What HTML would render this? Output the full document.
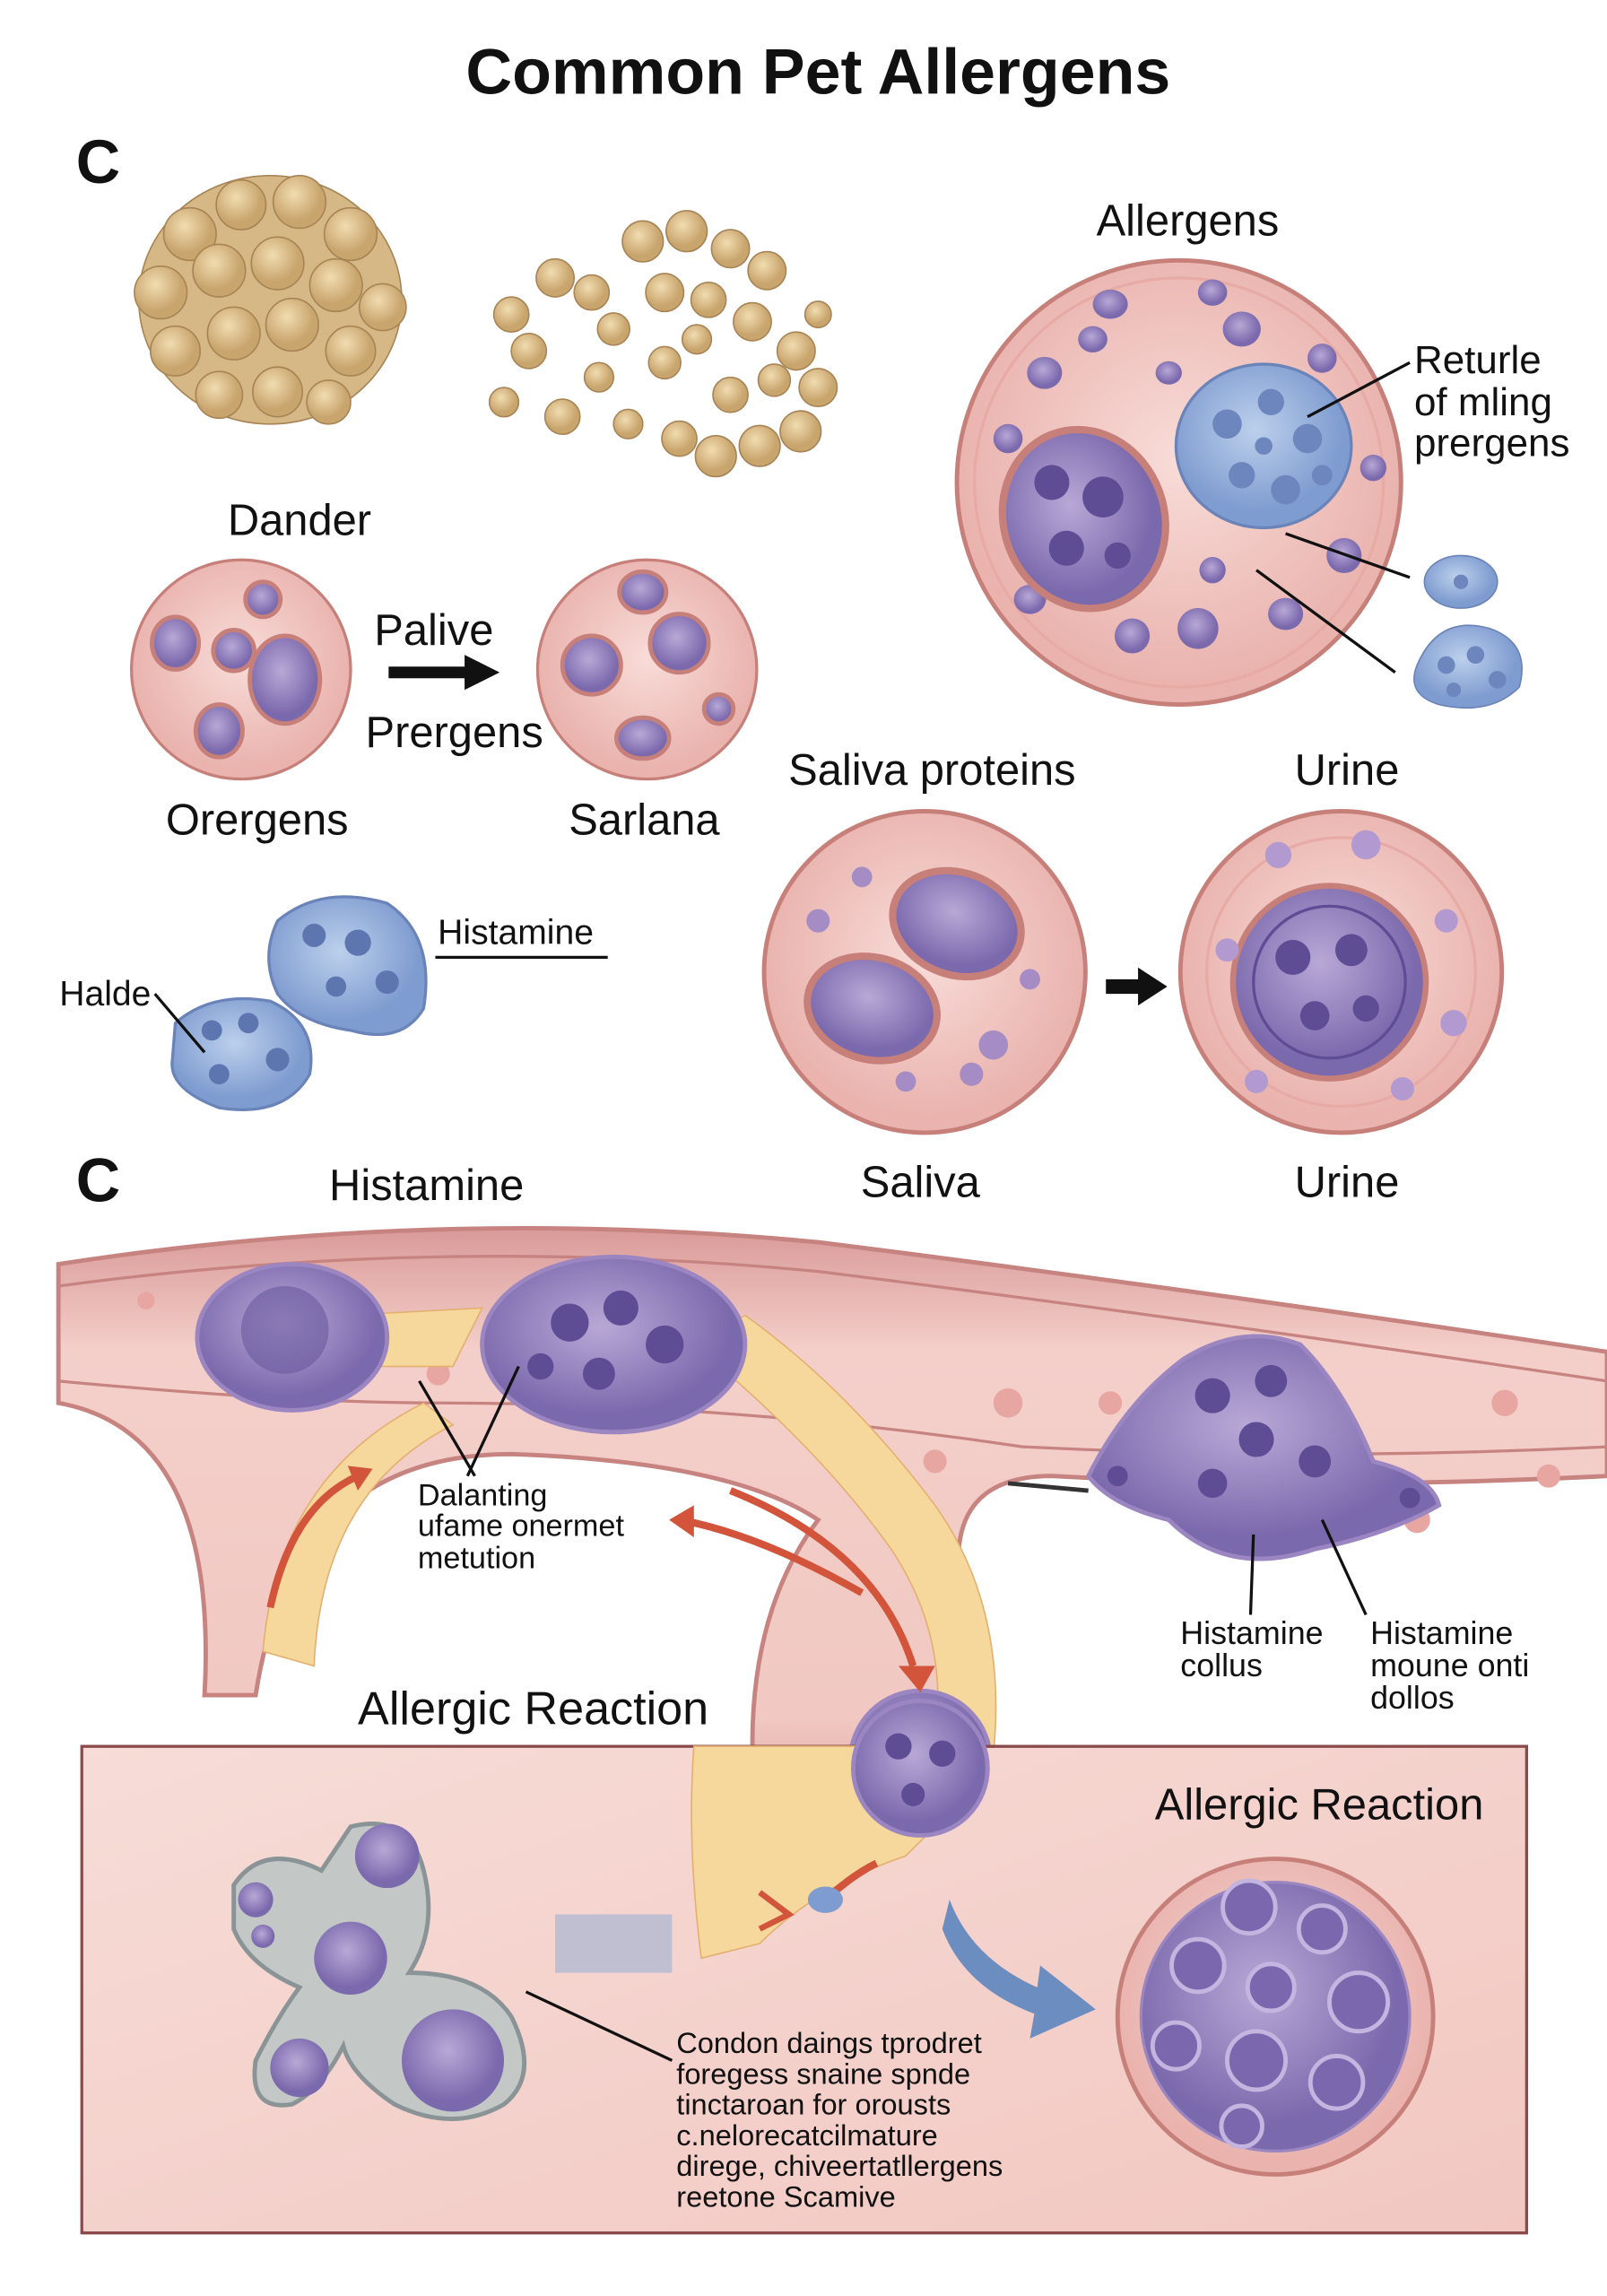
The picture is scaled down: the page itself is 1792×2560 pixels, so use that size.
<!DOCTYPE html>
<html><head><meta charset="utf-8"><style>
html,body{margin:0;padding:0;background:#fff}
svg{display:block}
text{font-family:"Liberation Sans",sans-serif;fill:#111}
</style></head><body>
<svg width="1792" height="2560" viewBox="0 0 1100 1571" xmlns="http://www.w3.org/2000/svg">
<defs>
<radialGradient id="tan" cx="40%" cy="35%"><stop offset="0" stop-color="#f1dcb0"/><stop offset="1" stop-color="#c9a56e"/></radialGradient>
<radialGradient id="pink" cx="50%" cy="45%"><stop offset="0" stop-color="#f8dcd8"/><stop offset="1" stop-color="#eab3ae"/></radialGradient>
<radialGradient id="blue" cx="45%" cy="40%"><stop offset="0" stop-color="#bcd0ec"/><stop offset="1" stop-color="#7f9cd0"/></radialGradient>
<radialGradient id="nuc" cx="45%" cy="40%"><stop offset="0" stop-color="#b8a8d6"/><stop offset="1" stop-color="#7b69ad"/></radialGradient>
<linearGradient id="vessel" x1="0" y1="0" x2="0" y2="1"><stop offset="0" stop-color="#d99a98"/><stop offset="0.2" stop-color="#f4cfca"/><stop offset="0.8" stop-color="#f1c8c2"/><stop offset="1" stop-color="#d99a98"/></linearGradient>
<linearGradient id="boxg" x1="0" y1="0" x2="1" y2="1"><stop offset="0" stop-color="#f7dcd7"/><stop offset="1" stop-color="#f2c7c1"/></linearGradient>
</defs>

<text x="560" y="64" font-size="44" font-weight="bold" text-anchor="middle">Common Pet Allergens</text>
<text x="52" y="125" font-size="42" font-weight="bold">C</text>

<!-- dander clump -->
<g fill="url(#tan)" stroke="#a88455" stroke-width="1">
<ellipse cx="185" cy="205" rx="90" ry="85" fill="#d6b886"/>
<circle cx="130" cy="160" r="18"/><circle cx="165" cy="140" r="17"/><circle cx="205" cy="138" r="18"/><circle cx="240" cy="160" r="18"/>
<circle cx="110" cy="200" r="18"/><circle cx="150" cy="185" r="18"/><circle cx="190" cy="180" r="18"/><circle cx="230" cy="195" r="18"/><circle cx="262" cy="210" r="16"/>
<circle cx="120" cy="240" r="17"/><circle cx="160" cy="228" r="18"/><circle cx="200" cy="222" r="18"/><circle cx="240" cy="240" r="17"/>
<circle cx="150" cy="270" r="16"/><circle cx="190" cy="268" r="17"/><circle cx="225" cy="275" r="15"/>
</g>
<!-- scattered -->
<g fill="url(#tan)" stroke="#a88455" stroke-width="1">
<circle cx="440" cy="165" r="14"/><circle cx="470" cy="158" r="14"/><circle cx="500" cy="170" r="13"/><circle cx="525" cy="185" r="13"/>
<circle cx="380" cy="190" r="13"/><circle cx="405" cy="200" r="12"/><circle cx="350" cy="215" r="12"/><circle cx="362" cy="240" r="12"/>
<circle cx="420" cy="225" r="11"/><circle cx="455" cy="200" r="13"/><circle cx="485" cy="205" r="12"/><circle cx="515" cy="220" r="13"/>
<circle cx="545" cy="240" r="13"/><circle cx="560" cy="265" r="13"/><circle cx="548" cy="295" r="14"/><circle cx="520" cy="305" r="14"/>
<circle cx="490" cy="312" r="14"/><circle cx="465" cy="300" r="12"/><circle cx="500" cy="270" r="12"/><circle cx="455" cy="248" r="11"/>
<circle cx="410" cy="258" r="10"/><circle cx="345" cy="275" r="10"/><circle cx="385" cy="285" r="12"/><circle cx="430" cy="290" r="10"/>
<circle cx="560" cy="215" r="9"/><circle cx="530" cy="260" r="11"/><circle cx="477" cy="232" r="10"/>
</g>

<text x="205" y="366" font-size="30" text-anchor="middle">Dander</text>

<!-- small cells -->
<g>
<circle cx="165" cy="458" r="75" fill="url(#pink)" stroke="#c77f7a" stroke-width="2"/>
<ellipse cx="120" cy="440" rx="16" ry="18" fill="url(#nuc)" stroke="#c77f7a" stroke-width="3"/>
<ellipse cx="160" cy="445" rx="14" ry="14" fill="url(#nuc)" stroke="#c77f7a" stroke-width="3"/>
<ellipse cx="195" cy="465" rx="24" ry="30" fill="url(#nuc)" stroke="#c77f7a" stroke-width="3"/>
<ellipse cx="150" cy="500" rx="16" ry="18" fill="url(#nuc)" stroke="#c77f7a" stroke-width="3"/>
<ellipse cx="180" cy="410" rx="12" ry="12" fill="url(#nuc)" stroke="#c77f7a" stroke-width="3"/>
</g>
<text x="297" y="441" font-size="30" text-anchor="middle">Palive</text>
<path d="M266 460 H322" stroke="#111" stroke-width="8"/><path d="M318 448 L342 460 L318 472Z" fill="#111"/>
<text x="311" y="511" font-size="30" text-anchor="middle">Prergens</text>
<g>
<circle cx="443" cy="458" r="75" fill="url(#pink)" stroke="#c77f7a" stroke-width="2"/>
<ellipse cx="440" cy="405" rx="16" ry="14" fill="url(#nuc)" stroke="#c77f7a" stroke-width="3"/>
<ellipse cx="405" cy="455" rx="20" ry="20" fill="url(#nuc)" stroke="#c77f7a" stroke-width="3"/>
<ellipse cx="465" cy="440" rx="20" ry="20" fill="url(#nuc)" stroke="#c77f7a" stroke-width="3"/>
<ellipse cx="440" cy="505" rx="18" ry="14" fill="url(#nuc)" stroke="#c77f7a" stroke-width="3"/>
<ellipse cx="492" cy="485" rx="10" ry="10" fill="url(#nuc)" stroke="#c77f7a" stroke-width="3"/>
</g>
<text x="176" y="571" font-size="30" text-anchor="middle">Orergens</text>
<text x="441" y="571" font-size="30" text-anchor="middle">Sarlana</text>

<!-- big allergen cell -->
<text x="813" y="161" font-size="30" text-anchor="middle">Allergens</text>
<circle cx="807" cy="330" r="152" fill="url(#pink)" stroke="#c77f7a" stroke-width="3"/>
<circle cx="807" cy="330" r="140" fill="none" stroke="#e8aaa4" stroke-width="2"/>
<g fill="url(#nuc)">
<ellipse cx="760" cy="208" rx="12" ry="10"/><ellipse cx="830" cy="200" rx="10" ry="9"/><ellipse cx="715" cy="255" rx="12" ry="11"/>
<ellipse cx="748" cy="232" rx="10" ry="9"/><ellipse cx="850" cy="225" rx="13" ry="12"/><ellipse cx="905" cy="245" rx="10" ry="10"/>
<ellipse cx="800" cy="255" rx="9" ry="8"/><ellipse cx="690" cy="300" rx="10" ry="10"/><ellipse cx="775" cy="435" rx="12" ry="12"/>
<ellipse cx="820" cy="430" rx="14" ry="14"/><ellipse cx="880" cy="420" rx="12" ry="11"/><ellipse cx="705" cy="410" rx="11" ry="10"/>
<ellipse cx="920" cy="380" rx="12" ry="12"/><ellipse cx="830" cy="390" rx="9" ry="9"/><ellipse cx="940" cy="320" rx="9" ry="9"/>
</g>
<ellipse cx="742" cy="355" rx="55" ry="62" transform="rotate(-20 742 355)" fill="url(#nuc)" stroke="#c77f7a" stroke-width="5"/>
<g fill="#5e4d94"><circle cx="720" cy="330" r="12"/><circle cx="755" cy="340" r="14"/><circle cx="730" cy="375" r="12"/><circle cx="765" cy="380" r="9"/></g>
<ellipse cx="865" cy="305" rx="60" ry="56" fill="url(#blue)" stroke="#6a83b8" stroke-width="2"/>
<g fill="#6d86bd"><circle cx="840" cy="290" r="10"/><circle cx="870" cy="275" r="9"/><circle cx="895" cy="300" r="10"/><circle cx="850" cy="325" r="9"/><circle cx="880" cy="335" r="10"/><circle cx="865" cy="305" r="6"/><circle cx="905" cy="325" r="7"/></g>
<text x="968" y="255" font-size="27">Returle</text>
<text x="968" y="284" font-size="27">of mling</text>
<text x="968" y="312" font-size="27">prergens</text>
<path d="M965 248 L895 285 M880 365 L965 395 M860 390 L955 460" stroke="#111" stroke-width="2" fill="none"/>
<ellipse cx="1000" cy="398" rx="25" ry="18" fill="url(#blue)" stroke="#6a83b8"/>
<path d="M970 455 Q985 420 1020 430 Q1048 440 1040 470 Q1020 490 985 482 Q962 475 970 455Z" fill="url(#blue)" stroke="#6a83b8"/>
<g fill="#6d86bd"><circle cx="990" cy="455" r="6"/><circle cx="1010" cy="448" r="6"/><circle cx="1025" cy="465" r="6"/><circle cx="995" cy="472" r="5"/><circle cx="1000" cy="398" r="5"/></g>

<!-- saliva / urine -->
<text x="638" y="537" font-size="30" text-anchor="middle">Saliva proteins</text>
<text x="922" y="537" font-size="30" text-anchor="middle">Urine</text>
<circle cx="633" cy="665" r="110" fill="url(#pink)" stroke="#c77f7a" stroke-width="3"/>
<ellipse cx="655" cy="632" rx="45" ry="35" transform="rotate(20 655 632)" fill="url(#nuc)" stroke="#c77f7a" stroke-width="5"/>
<ellipse cx="597" cy="690" rx="45" ry="35" transform="rotate(15 597 690)" fill="url(#nuc)" stroke="#c77f7a" stroke-width="5"/>
<g fill="#a58cc4"><circle cx="560" cy="630" r="8"/><circle cx="590" cy="600" r="7"/><circle cx="680" cy="715" r="10"/><circle cx="665" cy="735" r="8"/><circle cx="705" cy="670" r="7"/><circle cx="620" cy="740" r="7"/></g>
<path d="M757 675 H782" stroke="#111" stroke-width="10"/><path d="M779 662 L799 675 L779 688Z" fill="#111"/>
<circle cx="918" cy="665" r="110" fill="url(#pink)" stroke="#c77f7a" stroke-width="3"/>
<circle cx="918" cy="665" r="92" fill="none" stroke="#e8aaa4" stroke-width="2"/>
<circle cx="910" cy="672" r="66" fill="url(#nuc)" stroke="#c77f7a" stroke-width="4"/>
<circle cx="910" cy="672" r="52" fill="none" stroke="#5e4d94" stroke-width="2"/>
<g fill="#5e4d94"><circle cx="885" cy="655" r="12"/><circle cx="925" cy="650" r="11"/><circle cx="900" cy="695" r="10"/><circle cx="935" cy="690" r="9"/></g>
<g fill="#b29ad0"><circle cx="875" cy="585" r="9"/><circle cx="935" cy="578" r="10"/><circle cx="990" cy="630" r="8"/><circle cx="840" cy="650" r="8"/><circle cx="995" cy="700" r="9"/><circle cx="960" cy="745" r="8"/><circle cx="860" cy="740" r="8"/></g>

<!-- histamine blobs -->
<path d="M190 630 Q220 605 265 618 Q298 640 290 690 Q275 715 240 705 Q205 700 190 680 Q178 655 190 630Z" fill="url(#blue)" stroke="#6a83b8" stroke-width="2"/>
<path d="M120 700 Q145 678 185 685 Q218 700 212 735 Q195 765 150 758 Q115 745 118 725Z" fill="url(#blue)" stroke="#6a83b8" stroke-width="2"/>
<g fill="#5d76b0"><circle cx="215" cy="640" r="8"/><circle cx="245" cy="645" r="9"/><circle cx="265" cy="672" r="8"/><circle cx="230" cy="675" r="7"/><circle cx="145" cy="705" r="7"/><circle cx="170" cy="700" r="7"/><circle cx="190" cy="725" r="8"/><circle cx="150" cy="735" r="7"/></g>
<text x="353" y="646" font-size="24" text-anchor="middle">Histamine</text>
<path d="M298 655 H416" stroke="#111" stroke-width="2"/>
<text x="72" y="688" font-size="24" text-anchor="middle">Halde</text>
<path d="M106 680 L140 720" stroke="#111" stroke-width="2"/>

<text x="52" y="822" font-size="42" font-weight="bold">C</text>
<text x="292" y="821" font-size="30" text-anchor="middle">Histamine</text>
<text x="630" y="819" font-size="30" text-anchor="middle">Saliva</text>
<text x="922" y="819" font-size="30" text-anchor="middle">Urine</text>

<!-- vessel -->
<path d="M40 865 Q300 825 560 850 Q800 880 1100 925 L1100 1010 Q900 1020 720 1010 Q640 1010 660 1100 L680 1210 L520 1260 Q500 1120 560 1040 Q500 1000 350 995 Q200 995 175 1160 L140 1160 Q150 980 40 960 Z" fill="url(#vessel)" stroke="#c78380" stroke-width="3"/>
<path d="M40 880 Q300 845 560 870 Q800 900 1100 945" stroke="#c78380" stroke-width="2" fill="none"/>
<path d="M40 945 Q200 960 300 960 Q500 960 700 990 Q900 1000 1100 990" stroke="#c78380" stroke-width="2" fill="none"/>
<g fill="#e8a6a2"><circle cx="100" cy="890" r="6"/><circle cx="300" cy="940" r="8"/><circle cx="690" cy="960" r="10"/><circle cx="760" cy="960" r="8"/><circle cx="1030" cy="960" r="9"/><circle cx="1060" cy="1010" r="8"/><circle cx="970" cy="1040" r="9"/><circle cx="640" cy="1000" r="8"/></g>
<!-- yellow channels -->
<path d="M180 1130 Q190 1010 290 960 L310 975 Q220 1020 215 1140Z" fill="#f6d89c" stroke="#e3b070"/>
<path d="M475 920 Q560 990 610 1060 Q650 1120 640 1190 L680 1200 Q690 1100 640 1030 Q580 950 510 900Z" fill="#f6d89c" stroke="#e3b070"/>
<path d="M235 900 L330 895 L310 935 L250 935Z" fill="#f6d89c" stroke="#e3b070"/>
<path d="M485 1260 Q560 1300 640 1260 L630 1225 Q560 1260 495 1230Z" fill="#f6d89c" stroke="#e3b070"/>
<!-- cells in vessel -->
<ellipse cx="200" cy="915" rx="65" ry="50" fill="url(#nuc)" stroke="#9b86c2" stroke-width="3"/>
<circle cx="195" cy="910" r="30" fill="#6a5a9e" opacity=".6"/>
<ellipse cx="420" cy="920" rx="90" ry="60" fill="url(#nuc)" stroke="#9b86c2" stroke-width="3"/>
<g fill="#5e4d94"><circle cx="390" cy="905" r="13"/><circle cx="425" cy="895" r="12"/><circle cx="455" cy="920" r="13"/><circle cx="410" cy="940" r="11"/><circle cx="370" cy="935" r="9"/></g>
<path d="M745 1010 Q770 960 810 930 Q850 905 890 920 Q920 950 940 1000 Q980 1010 985 1030 Q950 1050 900 1060 Q840 1080 800 1040 Q760 1030 745 1010Z" fill="url(#nuc)" stroke="#9b86c2" stroke-width="3"/>
<g fill="#5e4d94"><circle cx="830" cy="955" r="12"/><circle cx="870" cy="945" r="11"/><circle cx="860" cy="985" r="12"/><circle cx="900" cy="1000" r="11"/><circle cx="830" cy="1015" r="10"/><circle cx="765" cy="1010" r="7"/><circle cx="965" cy="1025" r="7"/></g>
<path d="M690 1015 L745 1020" stroke="#333" stroke-width="3"/>
<circle cx="630" cy="1205" r="48" fill="url(#nuc)" stroke="#9b86c2" stroke-width="3"/>
<g fill="#5e4d94"><circle cx="615" cy="1190" r="9"/><circle cx="645" cy="1195" r="9"/><circle cx="625" cy="1225" r="8"/><circle cx="650" cy="1222" r="6"/></g>
<!-- red arrows -->
<g stroke="#d2543b" stroke-width="5" fill="none">
<path d="M185 1100 Q200 1030 245 1010"/><path d="M590 1090 Q520 1050 465 1040"/><path d="M500 1020 Q600 1060 625 1140"/><path d="M555 1280 Q575 1265 600 1260"/><path d="M520 1295 L510 1300"/>
</g>
<path d="M458 1040 L475 1030 L475 1052Z" fill="#d2543b"/>
<path d="M615 1140 L640 1140 L630 1158Z" fill="#d2543b"/>
<path d="M255 1005 L238 1003 L245 1020Z" fill="#d2543b"/>
<path d="M287 945 L325 1010 M355 935 L320 1010" stroke="#111" stroke-width="2"/>
<text x="286" y="1030" font-size="21">Dalanting</text>
<text x="286" y="1051" font-size="21">ufame onermet</text>
<text x="286" y="1073" font-size="21">metution</text>
<path d="M858 1050 L856 1105 M905 1040 L935 1105" stroke="#111" stroke-width="2"/>
<text x="808" y="1125" font-size="22">Histamine</text>
<text x="808" y="1147" font-size="22">collus</text>
<text x="938" y="1125" font-size="22">Histamine</text>
<text x="938" y="1147" font-size="22">moune onti</text>
<text x="938" y="1169" font-size="22">dollos</text>

<text x="365" y="1180" font-size="32" text-anchor="middle">Allergic Reaction</text>
<!-- box -->
<path d="M56 1195 H580 M680 1195 H1045 V1528 H56 Z" fill="url(#boxg)" stroke="#8a4a4a" stroke-width="2"/>
<rect x="57" y="1196" width="987" height="331" fill="url(#boxg)"/>
<path d="M56 1195 H1045 V1528 H56 Z" fill="none" stroke="#8a4a4a" stroke-width="2"/>
<path d="M475 1195 Q470 1260 480 1340 L520 1330 Q560 1290 620 1270 L640 1250 Q660 1200 660 1195 Z" fill="#f6d89c" stroke="#e3b070"/>
<circle cx="630" cy="1210" r="46" fill="url(#nuc)" stroke="#9b86c2" stroke-width="3"/>
<g fill="#5e4d94"><circle cx="615" cy="1195" r="9"/><circle cx="645" cy="1200" r="9"/><circle cx="625" cy="1228" r="8"/></g>
<path d="M560 1305 Q580 1285 600 1275" stroke="#d2543b" stroke-width="5" fill="none"/><path d="M520 1295 L540 1310 L520 1320" stroke="#d2543b" stroke-width="4" fill="none"/>
<ellipse cx="565" cy="1300" rx="12" ry="9" fill="#7f9cd0"/>
<path d="M380 1310 H460 V1350 H380Z" fill="#9cb0d3" opacity=".6"/>
<path d="M650 1300 Q665 1340 710 1360 L712 1345 L750 1375 L705 1395 L708 1378 Q660 1360 645 1320Z" fill="#6c8dc0"/>
<text x="903" y="1245" font-size="30" text-anchor="middle">Allergic Reaction</text>
<circle cx="873" cy="1380" r="108" fill="url(#pink)" stroke="#c77f7a" stroke-width="3"/>
<circle cx="873" cy="1380" r="92" fill="url(#nuc)" stroke="#9b86c2" stroke-width="2"/>
<g fill="#7a67ae" stroke="#c4b4e0" stroke-width="3"><circle cx="855" cy="1305" r="18"/><circle cx="905" cy="1320" r="16"/><circle cx="820" cy="1345" r="18"/><circle cx="870" cy="1360" r="16"/><circle cx="930" cy="1370" r="20"/><circle cx="805" cy="1400" r="16"/><circle cx="860" cy="1410" r="20"/><circle cx="915" cy="1425" r="18"/><circle cx="850" cy="1455" r="14"/></g>
<path d="M160 1290 Q180 1260 220 1280 L240 1250 Q280 1240 290 1280 Q300 1320 280 1350 Q330 1350 350 1380 Q370 1420 345 1440 Q310 1460 270 1440 Q240 1420 235 1400 Q220 1430 200 1440 Q170 1445 175 1410 Q190 1380 205 1360 Q170 1345 160 1320Z" fill="#c3c8c6" stroke="#8a9496" stroke-width="3"/>
<g fill="url(#nuc)"><circle cx="265" cy="1270" r="22"/><circle cx="175" cy="1300" r="12"/><circle cx="240" cy="1340" r="25"/><circle cx="310" cy="1410" r="35"/><circle cx="205" cy="1415" r="20"/><circle cx="180" cy="1325" r="8"/></g>
<path d="M360 1363 L460 1410" stroke="#111" stroke-width="2"/>
<g font-size="20">
<text x="463" y="1405">Condon daings tprodret</text>
<text x="463" y="1426">foregess snaine spnde</text>
<text x="463" y="1447">tinctaroan for orousts</text>
<text x="463" y="1468">c.nelorecatcilmature</text>
<text x="463" y="1489">direge, chiveertatllergens</text>
<text x="463" y="1510">reetone Scamive</text>
</g>
</svg>
</body></html>
